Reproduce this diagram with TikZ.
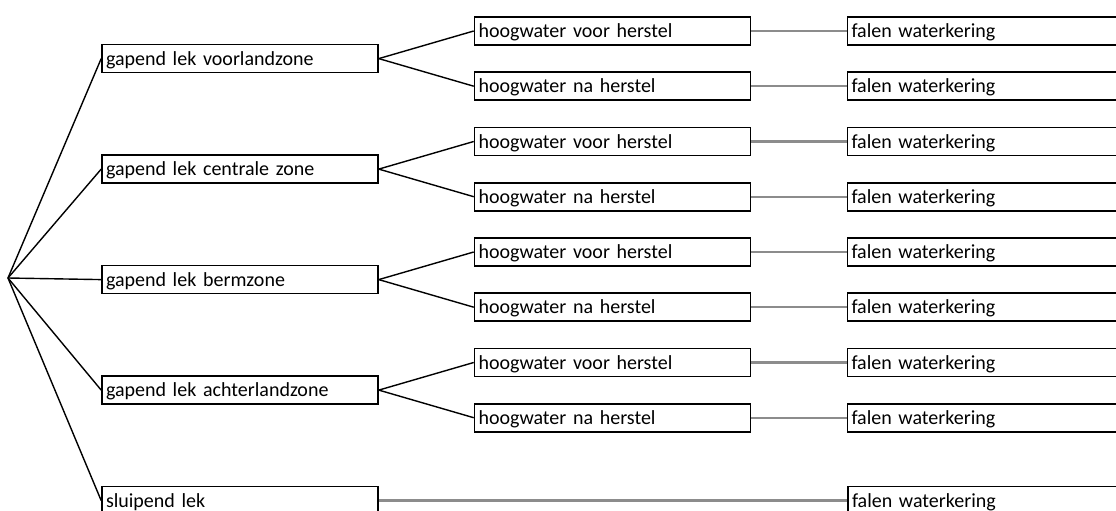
\documentclass[tikz,border=0pt]{standalone}
\usepackage{fontspec}
\setmainfont{Carlito}
\usepackage{tikz}
\usepackage{xcolor}

\begin{document}
\begin{tikzpicture}[x=1pt, y=-1pt, node distance={373pt}, line width=1.4pt,
  main/.style = {draw, rectangle, line width=1.6pt, minimum width=276pt, minimum height=28pt,
    text width=268pt, inner xsep=4pt, inner ysep=0pt, align=left,
    text height=15pt, text depth=2pt, font=\fontsize{20}{22}\selectfont},
  grey/.style = {draw=black!45, line width=2.4pt}]
\useasboundingbox (0,0) rectangle (1116,511);
\clip (0,0) rectangle (1116,511);
\coordinate (0) at (8,278);
\node[main] (1) at (240,58.6) {gapend lek voorlandzone};
\node[main] (2) at (240,169.1) {gapend lek centrale zone};
\node[main] (3) at (240,279.6) {gapend lek bermzone};
\node[main] (4) at (240,390.1) {gapend lek achterlandzone};
\node[main] (5) at (240,500.6) {sluipend lek};
\node[main] (6) at (612.5,31) {hoogwater voor herstel};
\node[main] (7) at (612.5,86.2) {hoogwater na herstel};
\node[main] (8) at (612.5,141.5) {hoogwater voor herstel};
\node[main] (9) at (612.5,196.7) {hoogwater na herstel};
\node[main] (10) at (612.5,252) {hoogwater voor herstel};
\node[main] (11) at (612.5,307.2) {hoogwater na herstel};
\node[main] (12) at (612.5,362.5) {hoogwater voor herstel};
\node[main] (13) at (612.5,417.7) {hoogwater na herstel};
\node[main] (14) [right of=6] {falen waterkering};
\node[main] (15) [right of=7] {falen waterkering};
\node[main] (16) [right of=8] {falen waterkering};
\node[main] (17) [right of=9] {falen waterkering};
\node[main] (18) [right of=10] {falen waterkering};
\node[main] (19) [right of=11] {falen waterkering};
\node[main] (20) [right of=12] {falen waterkering};
\node[main] (21) [right of=13] {falen waterkering};
\node[main] (22) [right of=5, node distance=746pt] {falen waterkering};
\draw (0) -- (1.west);
\draw (0) -- (2.west);
\draw (0) -- (3.west);
\draw (0) -- (4.west);
\draw (0) -- (5.west);
\draw (1.east) -- (6.west);
\draw (1.east) -- (7.west);
\draw (2.east) -- (8.west);
\draw (2.east) -- (9.west);
\draw (3.east) -- (10.west);
\draw (3.east) -- (11.west);
\draw (4.east) -- (12.west);
\draw (4.east) -- (13.west);
\draw[grey] (6.east) -- (14.west);
\draw[grey] (7.east) -- (15.west);
\draw[grey] (8.east) -- (16.west);
\draw[grey] (9.east) -- (17.west);
\draw[grey] (10.east) -- (18.west);
\draw[grey] (11.east) -- (19.west);
\draw[grey] (12.east) -- (20.west);
\draw[grey] (13.east) -- (21.west);
\draw[grey] (5.east) -- (22.west);
\end{tikzpicture}
\end{document}
